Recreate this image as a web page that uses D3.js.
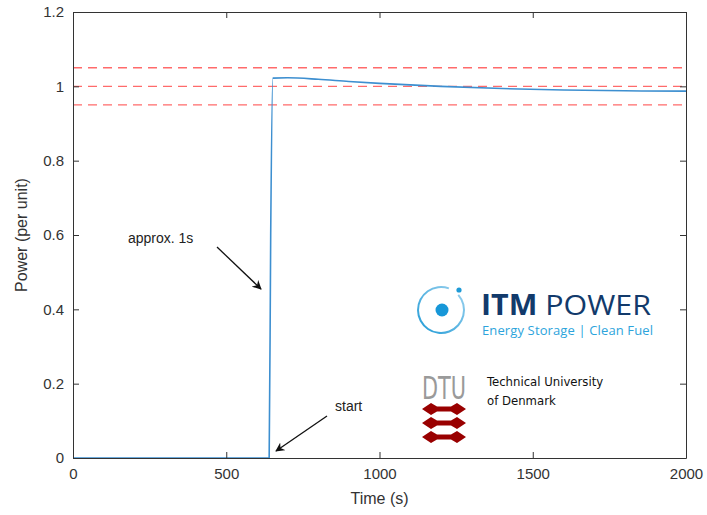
<!DOCTYPE html>
<html>
<head>
<meta charset="utf-8">
<script src="https://cdn.jsdelivr.net/npm/d3@7"></script>
<style>
  body { margin: 0; background: #fff; }
  #chart { width: 707px; height: 515px; }
  text { font-family: "Liberation Sans", Arial, sans-serif; }
</style>
</head>
<body>
<div id="chart"></div>
<script>
// step response
const times = [0, 640, 645, 652, 700, 800, 900, 1000, 1200, 1400, 1600, 1800, 2000];
const power = [0, 0, 0.6, 1.022, 1.023, 1.019, 1.013, 1.008, 1.0, 0.994, 0.99, 0.988, 0.987];
const bands = [0.95, 1, 1.05];
const xTicks = [0, 500, 1000, 1500, 2000];
const yTicks = [0, 0.2, 0.4, 0.6, 0.8, 1, 1.2];

const width = 707, height = 515;
const margin = {top: 12, left: 73, right: 21, bottom: 57};

const svg = d3.select("#chart").append("svg")
    .attr("width", width)
    .attr("height", height);

const x = d3.scaleLinear().domain([0, 2000]).range([margin.left, width - margin.right]);
const y = d3.scaleLinear().domain([0, 1.2]).range([height - margin.bottom, margin.top]);

const data = times.map((t, i) => ({t: t, p: power[i]}));

// tolerance band
svg.selectAll(".band")
    .data(bands)
    .enter()
    .append("line")
    .attr("x1", x(0)).attr("x2", x(2000))
    .attr("y1", d => y(d)).attr("y2", d => y(d))
    .attr("stroke", "#ff6b6b")
    .attr("stroke-width", 1.3)
    .attr("stroke-dasharray", "9,6");

svg.append("path")
    .datum(data)
    .attr("fill", "none")
    .attr("stroke", "#3d8fd0")
    .attr("stroke-width", 1.6)
    .attr("d", d3.line().x(d => x(d.t)).y(d => y(d.p)).curve(d3.curveMonotoneX));

// axes, matlab style box with inward ticks
const axStyle = g => {
    g.selectAll("path").attr("stroke", "#333");
    g.selectAll("line").attr("stroke", "#333");
    g.selectAll("text").attr("fill", "#333").style("font-size", "15px");
};

svg.append("g")
    .attr("transform", `translate(0,${y(0)})`)
    .call(d3.axisBottom(x).tickValues(xTicks).tickSize(-6).tickSizeOuter(0).tickPadding(10).tickFormat(d3.format("")))
    .call(axStyle);

svg.append("g")
    .attr("transform", `translate(${x(0)},0)`)
    .call(d3.axisLeft(y).tickValues(yTicks).tickSize(-6).tickSizeOuter(0).tickPadding(9).tickFormat(d => d))
    .call(axStyle);

svg.append("g")
    .attr("transform", `translate(0,${y(1.2)})`)
    .call(d3.axisTop(x).tickValues(xTicks).tickSize(-6).tickSizeOuter(0).tickFormat(""))
    .call(axStyle);

svg.append("g")
    .attr("transform", `translate(${x(2000)},0)`)
    .call(d3.axisRight(y).tickValues(yTicks).tickSize(-6).tickSizeOuter(0).tickFormat(""))
    .call(axStyle);

svg.append("text")
    .attr("x", (x(0) + x(2000)) / 2)
    .attr("y", 504)
    .attr("text-anchor", "middle")
    .attr("fill", "#333")
    .style("font-size", "16px")
    .text("Time (s)");

svg.append("text")
    .attr("transform", "rotate(-90)")
    .attr("x", -y(0.6))
    .attr("y", 27)
    .attr("text-anchor", "middle")
    .attr("fill", "#333")
    .style("font-size", "16px")
    .text("Power (per unit)");

// annotations
svg.append("defs").append("marker")
    .attr("id", "head")
    .attr("viewBox", "0 0 10 10")
    .attr("refX", 9).attr("refY", 5)
    .attr("markerWidth", 7).attr("markerHeight", 7)
    .attr("orient", "auto")
    .append("path")
    .attr("d", "M0,0 L10,5 L0,10 L3,5 Z")
    .attr("fill", "#111");

svg.append("text")
    .attr("x", 128).attr("y", 243)
    .attr("fill", "#222")
    .style("font-size", "14px")
    .text("approx. 1s");

svg.append("line")
    .attr("x1", 217).attr("y1", 247)
    .attr("x2", 261).attr("y2", 289)
    .attr("stroke", "#111").attr("stroke-width", 1.3)
    .attr("marker-end", "url(#head)");

svg.append("text")
    .attr("x", 335).attr("y", 411)
    .attr("fill", "#222")
    .style("font-size", "14px")
    .text("start");

svg.append("line")
    .attr("x1", 327).attr("y1", 416)
    .attr("x2", 276).attr("y2", 451)
    .attr("stroke", "#111").attr("stroke-width", 1.3)
    .attr("marker-end", "url(#head)");

// ITM Power logo
const itm = svg.append("g");
const grad = svg.select("defs").append("linearGradient")
    .attr("id", "ring").attr("x1", "0").attr("y1", "1").attr("x2", "1").attr("y2", "0");
grad.append("stop").attr("offset", "0").attr("stop-color", "#1e9ad6");
grad.append("stop").attr("offset", "1").attr("stop-color", "#9fd3ef");

itm.append("path")
    .attr("transform", "translate(441,310)")
    .attr("d", d3.arc().innerRadius(22).outerRadius(24).startAngle(0.85).endAngle(2 * Math.PI + 0.35)())
    .attr("fill", "url(#ring)");
itm.append("circle").attr("cx", 459).attr("cy", 290).attr("r", 2.6).attr("fill", "#1e9ad6");
itm.append("circle").attr("cx", 442).attr("cy", 310).attr("r", 6.5).attr("fill", "#1797d8");

itm.append("text")
    .attr("x", 481).attr("y", 315)
    .attr("fill", "#123a6b")
    .style("font-size", "28px")
    .style("font-family", "'Open Sans', sans-serif")
    .attr("textLength", 170)
    .attr("lengthAdjust", "spacingAndGlyphs")
    .html('<tspan font-weight="bold">ITM</tspan> POWER');

itm.append("text")
    .attr("x", 482).attr("y", 335)
    .attr("fill", "#2da4dc")
    .style("font-size", "13px")
    .style("font-family", "'Open Sans', sans-serif")
    .attr("textLength", 171)
    .text("Energy Storage | Clean Fuel");

// DTU logo
const dtu = svg.append("g");
dtu.append("text")
    .attr("x", 444).attr("y", 399)
    .attr("text-anchor", "middle")
    .attr("fill", "#9a9a9a")
    .style("font-size", "32px")
    .style("font-family", "'DejaVu Sans Condensed', sans-serif")
    .attr("textLength", 44)
    .attr("lengthAdjust", "spacingAndGlyphs")
    .text("DTU");

[409, 423, 437].forEach(cy => {
    dtu.append("path")
        .attr("d", `M422,${cy} L431,${cy - 6} L437,${cy - 2.5} L451,${cy - 2.5} L457,${cy - 6} L466,${cy} L457,${cy + 6} L451,${cy + 2.5} L437,${cy + 2.5} L431,${cy + 6} Z`)
        .attr("fill", "#990000");
});

dtu.append("text")
    .attr("x", 487).attr("y", 386)
    .attr("fill", "#111")
    .style("font-size", "13px")
    .style("font-family", "'DejaVu Sans Condensed', sans-serif")
    .text("Technical University");
dtu.append("text")
    .attr("x", 487).attr("y", 405)
    .attr("fill", "#111")
    .style("font-size", "13px")
    .style("font-family", "'DejaVu Sans Condensed', sans-serif")
    .text("of Denmark");
</script>
</body>
</html>
